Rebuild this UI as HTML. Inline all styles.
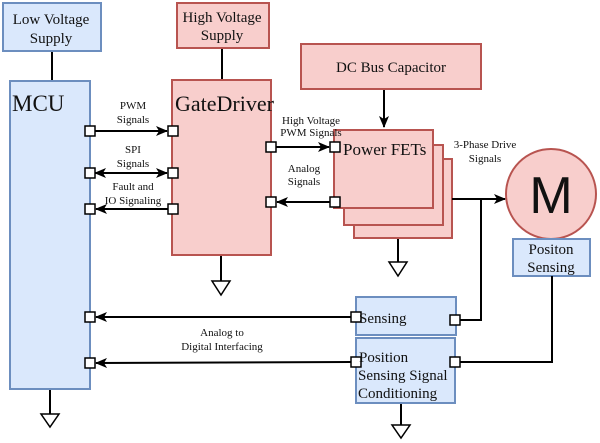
<!DOCTYPE html>
<html><head><meta charset="utf-8"><style>
html,body{margin:0;padding:0;background:#fff;}
svg{display:block;}
text{font-family:"Liberation Serif",serif;fill:#111;}
</style></head><body>
<svg width="600" height="443" viewBox="0 0 600 443" xmlns="http://www.w3.org/2000/svg">
<defs>
<marker id="a" markerWidth="12" markerHeight="10" refX="11" refY="5" orient="auto" markerUnits="userSpaceOnUse">
<path d="M0,0 L12,5 L0,10 L3,5 Z" fill="#000"/></marker>
<marker id="s" markerWidth="12" markerHeight="10" refX="1" refY="5" orient="auto" markerUnits="userSpaceOnUse">
<path d="M12,0 L0,5 L12,10 L9,5 Z" fill="#000"/></marker>
</defs>
<g stroke="#000" stroke-width="2" fill="none">
<line x1="52" y1="51" x2="52" y2="82"/>
<line x1="222" y1="48" x2="222" y2="80"/>
<line x1="384" y1="89" x2="384" y2="127" marker-end="url(#a)"/>
<line x1="50" y1="389" x2="50" y2="414"/>
<line x1="221" y1="255" x2="221" y2="281"/>
<line x1="398" y1="238" x2="398" y2="262"/>
<line x1="401" y1="403" x2="401" y2="425"/>
</g>
<g fill="#fff" stroke="#000" stroke-width="1.5">
<path d="M41,414 L59,414 L50,427 Z"/>
<path d="M212,281 L230,281 L221,295 Z"/>
<path d="M389,262 L407,262 L398,276 Z"/>
<path d="M392,425 L410,425 L401,438 Z"/>
</g>
<g stroke-width="2">
<rect x="3" y="3" width="98" height="48" fill="#dae8fc" stroke="#6c8ebf"/>
<rect x="177" y="3" width="92" height="45" fill="#f8cecc" stroke="#b85450"/>
<rect x="301" y="44" width="180" height="45" fill="#f8cecc" stroke="#b85450"/>
<rect x="10" y="81" width="80" height="308" fill="#dae8fc" stroke="#6c8ebf"/>
<rect x="172" y="80" width="99" height="175" fill="#f8cecc" stroke="#b85450"/>
<rect x="354" y="159" width="98" height="79" fill="#f8cecc" stroke="#b85450"/>
<rect x="344" y="145" width="99" height="80" fill="#f8cecc" stroke="#b85450"/>
<rect x="334" y="130" width="99" height="78" fill="#f8cecc" stroke="#b85450"/>
<circle cx="551" cy="194" r="45" fill="#f8cecc" stroke="#b85450"/>
<rect x="513" y="239" width="77" height="37" fill="#dae8fc" stroke="#6c8ebf"/>
<rect x="356" y="297" width="100" height="38" fill="#dae8fc" stroke="#6c8ebf"/>
<rect x="356" y="338" width="99" height="65" fill="#dae8fc" stroke="#6c8ebf"/>
</g>
<g stroke="#000" stroke-width="2" fill="none">
<line x1="95" y1="131" x2="167" y2="131" marker-end="url(#a)"/>
<line x1="95" y1="173" x2="167" y2="173" marker-start="url(#s)" marker-end="url(#a)"/>
<line x1="168" y1="209" x2="96" y2="209" marker-end="url(#a)"/>
<line x1="276" y1="147" x2="329" y2="147" marker-end="url(#a)"/>
<line x1="330" y1="202" x2="277" y2="202" marker-end="url(#a)"/>
<line x1="452" y1="199" x2="505" y2="199" marker-end="url(#a)"/>
<polyline points="481,199 481,320 460,320"/>
<polyline points="552,276 552,362 460,362"/>
<line x1="351" y1="317" x2="96" y2="317" marker-end="url(#a)"/>
<line x1="351" y1="362" x2="96" y2="363" marker-end="url(#a)"/>
</g>
<g fill="#fff" stroke="#000" stroke-width="1.5">
<rect x="85" y="126" width="10" height="10"/><rect x="85" y="168" width="10" height="10"/><rect x="85" y="204" width="10" height="10"/>
<rect x="85" y="312" width="10" height="10"/><rect x="85" y="358" width="10" height="10"/>
<rect x="168" y="126" width="10" height="10"/><rect x="168" y="168" width="10" height="10"/><rect x="168" y="204" width="10" height="10"/>
<rect x="266" y="142" width="10" height="10"/><rect x="266" y="197" width="10" height="10"/>
<rect x="330" y="142" width="10" height="10"/><rect x="330" y="197" width="10" height="10"/>
<rect x="351" y="312" width="10" height="10"/><rect x="450" y="315" width="10" height="10"/>
<rect x="351" y="357" width="10" height="10"/><rect x="450" y="357" width="10" height="10"/>
</g>
<g font-size="15" text-anchor="middle">
<text x="51" y="24">Low Voltage</text><text x="51" y="43">Supply</text>
<text x="222" y="22">High Voltage</text><text x="222" y="40">Supply</text>
<text x="391" y="72">DC Bus Capacitor</text>
<text x="551" y="254">Positon</text><text x="551" y="272">Sensing</text>
</g>
<text x="12" y="111" font-size="23">MCU</text>
<text x="175" y="111" font-size="22">GateDriver</text>
<text x="343" y="155" font-size="17">Power FETs</text>
<text x="551" y="213" font-size="52" text-anchor="middle" style="font-family:'Liberation Sans',sans-serif">M</text>
<text x="359" y="323" font-size="15">Sensing</text>
<text x="359" y="362" font-size="15">Position</text>
<text x="358" y="380" font-size="15">Sensing Signal</text>
<text x="358" y="398" font-size="15">Conditioning</text>
<g font-size="11" text-anchor="middle">
<text x="133" y="109">PWM</text><text x="133" y="123">Signals</text>
<text x="133" y="153">SPI</text><text x="133" y="167">Signals</text>
<text x="133" y="190">Fault and</text><text x="133" y="204">IO Signaling</text>
<text x="311" y="124">High Voltage</text><text x="311" y="136">PWM Signals</text>
<text x="304" y="172">Analog</text><text x="304" y="185">Signals</text>
<text x="485" y="148">3-Phase Drive</text><text x="485" y="162">Signals</text>
<text x="222" y="336">Analog to</text><text x="222" y="350">Digital Interfacing</text>
</g>
</svg>
</body></html>
